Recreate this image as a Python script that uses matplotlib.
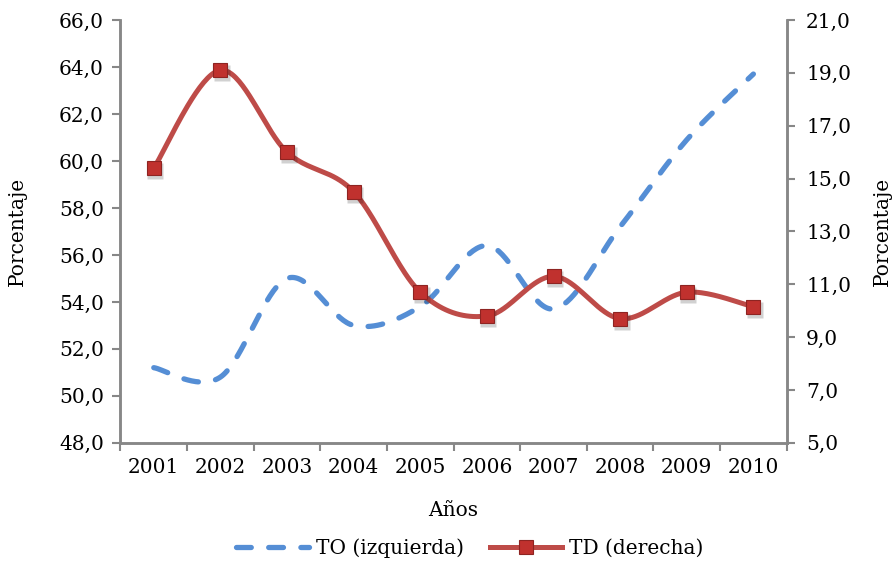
import numpy as np
import matplotlib
matplotlib.use("Agg")
import matplotlib.pyplot as plt
from matplotlib.ticker import FixedLocator, FuncFormatter
from matplotlib.lines import Line2D
import matplotlib.transforms as mtransforms

years = ["2001", "2002", "2003", "2004", "2005", "2006", "2007", "2008", "2009", "2010"]
to_values = [51.2, 50.8, 55.0, 53.0, 53.8, 56.4, 53.7, 57.2, 60.9, 63.7]
td_values = [15.4, 19.1, 16.0, 14.5, 10.7, 9.8, 11.3, 9.7, 10.7, 10.15]
left_ticks = [48, 50, 52, 54, 56, 58, 60, 62, 64, 66]
right_ticks = [5, 7, 9, 11, 13, 15, 17, 19, 21]

FONT = "DejaVu Serif"
plt.rcParams['font.family'] = [FONT]
FS = 14.5
BLUE = "#558ED5"
RED = "#BE4B48"
AXC = "#878787"


def smooth(xs, ys, n=40):
    """Excel-like smoothed line (Catmull-Rom Bezier) through the data points."""
    xs = np.asarray(xs, float)
    ys = np.asarray(ys, float)
    P = np.column_stack([xs, ys])
    out = []
    m = len(P)
    for i in range(m - 1):
        p0 = P[i - 1] if i > 0 else P[i]
        p1 = P[i]
        p2 = P[i + 1]
        p3 = P[i + 2] if i + 2 < m else P[i + 1]
        c1 = p1 + (p2 - p0) / 6.0
        c2 = p2 - (p3 - p1) / 6.0
        t = np.linspace(0, 1, n)[:, None]
        seg = ((1 - t) ** 3) * p1 + 3 * ((1 - t) ** 2) * t * c1 + 3 * (1 - t) * t ** 2 * c2 + t ** 3 * p2
        if i > 0:
            seg = seg[1:]
        out.append(seg)
    out = np.vstack(out)
    return out[:, 0], out[:, 1]


fig = plt.figure(figsize=(8.95, 5.62), dpi=100)
ax = fig.add_axes([0.1346, 0.212, 0.879 - 0.1346, 0.9644 - 0.212])
ax2 = ax.twinx()

x = np.arange(1, len(years) + 1)

sx, sy = smooth(x, to_values)
ax.plot(sx, sy, color=BLUE, lw=3.8, linestyle=(0, (2.8, 3.3)),
        dash_capstyle='round', solid_capstyle='round', zorder=2)

tx, ty = smooth(x, td_values)
ax2.plot(tx, ty, color=RED, lw=3.6, solid_capstyle='round', zorder=3)
shadow_tr = mtransforms.offset_copy(ax2.transData, fig=fig, x=1.5, y=-3.0, units='dots')
ax2.plot(x, td_values, linestyle='none', marker='s', markersize=11.5,
         markerfacecolor='black', markeredgecolor='none', alpha=0.18,
         transform=shadow_tr, zorder=3.5)
ax2.plot(x, td_values, linestyle='none', marker='s', markersize=10.5,
         markerfacecolor="#C0312E", markeredgecolor="#8E2422", markeredgewidth=0.8, zorder=4)

ax.set_xlim(0.5, len(years) + 0.5)
ax.set_ylim(left_ticks[0], left_ticks[-1])
ax2.set_ylim(right_ticks[0], right_ticks[-1])

ax.set_xticks(x)
ax.set_xticklabels(years, fontsize=FS)
ax.xaxis.set_minor_locator(FixedLocator(np.arange(0.5, len(years) + 1, 1.0)))
ax.tick_params(axis='x', which='major', length=0, pad=11)
ax.tick_params(axis='x', which='minor', length=6, width=1.5, color=AXC, direction='out')

ax.set_yticks(left_ticks)
ax2.set_yticks(right_ticks)
fmt = FuncFormatter(lambda v, p: f"{v:.1f}".replace('.', ','))
ax.yaxis.set_major_formatter(fmt)
ax2.yaxis.set_major_formatter(fmt)
ax.tick_params(axis='y', length=6, width=1.5, color=AXC, labelsize=FS, pad=6)
ax2.tick_params(axis='y', length=6, width=1.5, color=AXC, labelsize=FS, pad=8)

for a in (ax, ax2):
    a.spines['top'].set_visible(False)
    for s in ('left', 'right', 'bottom'):
        a.spines[s].set_color(AXC)
        a.spines[s].set_linewidth(1.8)

ax.set_ylabel("Porcentaje", fontsize=FS)
ax2.set_ylabel("Porcentaje", fontsize=FS)
ax.yaxis.set_label_coords(-0.140, 0.5)
ax2.yaxis.set_label_coords(1.129, 0.5)
ax.set_xlabel("Años", fontsize=FS)
ax.xaxis.set_label_coords(0.5, -0.137)

h1 = Line2D([], [], color=BLUE, lw=3.8, linestyle=(0, (2.8, 3.3)), dash_capstyle='round')
h2 = Line2D([], [], color=RED, lw=3.6, marker='s', markersize=10.5,
            markerfacecolor="#C0312E", markeredgecolor="#8E2422", markeredgewidth=0.8)
fig.legend([h1, h2], ["TO (izquierda)", "TD (derecha)"], loc='center',
           bbox_to_anchor=(0.525, 0.025), ncol=2, frameon=False, fontsize=FS,
           handlelength=3.6, handletextpad=0.35, columnspacing=1.3, borderaxespad=0)

fig.savefig("out.png", dpi=100)
